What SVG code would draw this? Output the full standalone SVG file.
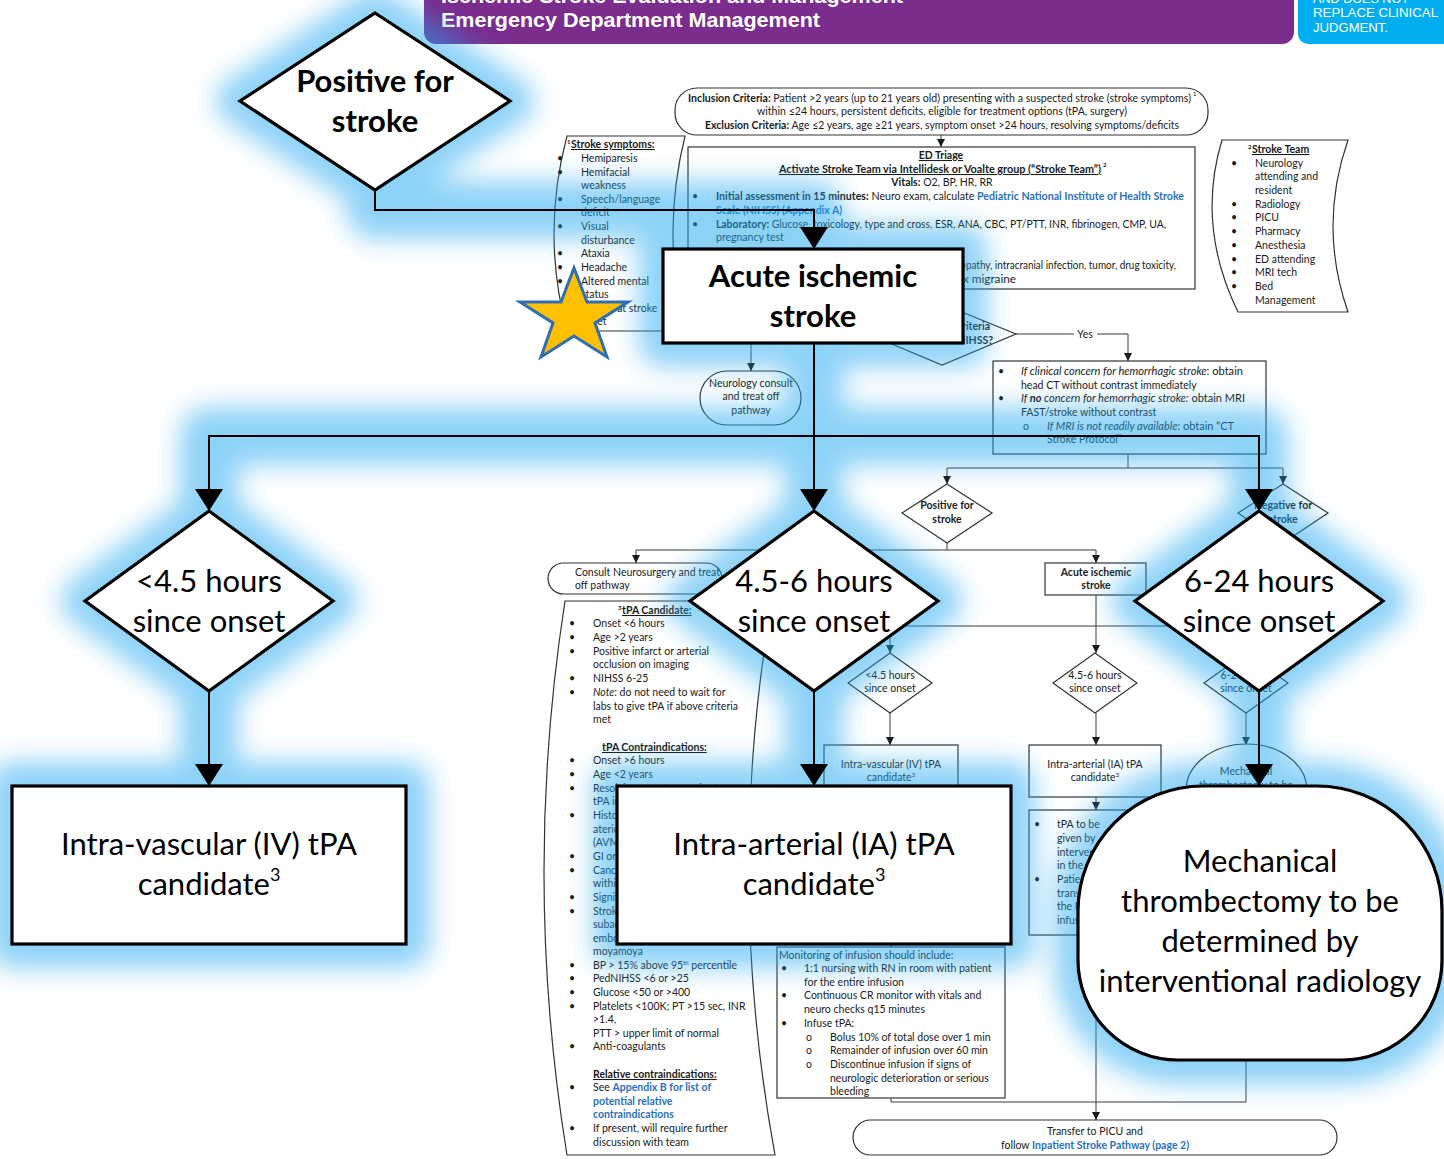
<svg xmlns="http://www.w3.org/2000/svg" width="1444" height="1159" viewBox="0 0 1444 1159">
<defs>
<style>
text{font-family:Lato,"Open Sans","Liberation Sans",sans-serif;fill:#1a1a1a}
.s{font-size:10.5px}
.c{text-anchor:middle}
.b{font-weight:700}
.i{font-style:italic}
.u{text-decoration:underline}
.lk{fill:#2a6fc4;font-weight:700}
.hd{font-family:"Liberation Sans",Arial,sans-serif;fill:#fff;font-weight:700}
.ln{fill:none;stroke:#3a3a3a;stroke-width:1}
.bx{fill:#fff;stroke:#333;stroke-width:1.2}
.big{fill:#fff;stroke:#000;stroke-width:3.2}
.bt{font-size:31px;text-anchor:middle;fill:#000}
.cn{fill:none;stroke:#000;stroke-width:2}
</style>
<marker id="a" viewBox="0 0 10 10" refX="10" refY="5" markerWidth="8" markerHeight="8" markerUnits="userSpaceOnUse" orient="auto"><path d="M0 0L10 5L0 10z" fill="#1a1a1a"/></marker>
<marker id="A" viewBox="0 0 22 28" refX="22" refY="14" markerWidth="22" markerHeight="28" markerUnits="userSpaceOnUse" orient="auto"><path d="M0 0L22 14L0 28z" fill="#000"/></marker>
<filter id="glow" filterUnits="userSpaceOnUse" x="-100" y="-100" width="1644" height="1359"><feGaussianBlur stdDeviation="13"/></filter>
</defs>
<rect width="1444" height="1159" fill="#fff"/>

<!-- header banner -->
<g id="header">
<rect x="424" y="-20" width="870" height="64" rx="12" fill="#7b2d8e"/>
<text class="hd" x="441" y="3" font-size="21" textLength="462" lengthAdjust="spacingAndGlyphs">Ischemic Stroke Evaluation and Management</text>
<text class="hd" x="441" y="27" font-size="21" textLength="379" lengthAdjust="spacingAndGlyphs">Emergency Department Management</text>
<rect x="1298" y="-20" width="160" height="64" rx="10" fill="#00aeef"/>
<text class="hd" x="1313" y="3" font-size="13" textLength="96" lengthAdjust="spacingAndGlyphs" style="font-weight:400">AND DOES NOT</text>
<text class="hd" x="1313" y="17" font-size="13" textLength="125" lengthAdjust="spacingAndGlyphs" style="font-weight:400">REPLACE CLINICAL</text>
<text class="hd" x="1313" y="32" font-size="13" textLength="75" lengthAdjust="spacingAndGlyphs" style="font-weight:400">JUDGMENT.</text>
</g>

<!-- background pathway connectors -->
<g id="bg-connectors">
<path class="ln" d="M941 135V147" marker-end="url(#a)"/>
<path class="ln" d="M942 289V304"/>
<path class="ln" d="M1016 334H1128V361" marker-end="url(#a)"/>
<path class="ln" d="M868 334H751V371" marker-end="url(#a)"/>
<path class="ln" d="M1128 454V468M947 468H1283"/>
<path class="ln" d="M947 468V484" marker-end="url(#a)"/>
<path class="ln" d="M1283 468V484" marker-end="url(#a)"/>
<path class="ln" d="M947 543V550M636 550H1096"/>
<path class="ln" d="M636 550V563" marker-end="url(#a)"/>
<path class="ln" d="M1096 550V563" marker-end="url(#a)"/>
<path class="ln" d="M1096 595V653" marker-end="url(#a)"/>
<path class="ln" d="M890 626H1246"/>
<path class="ln" d="M890 626V653" marker-end="url(#a)"/>
<path class="ln" d="M1246 626V653" marker-end="url(#a)"/>
<path class="ln" d="M890 713V745" marker-end="url(#a)"/>
<path class="ln" d="M1096 713V745" marker-end="url(#a)"/>
<path class="ln" d="M1246 713V745" marker-end="url(#a)"/>
<path class="ln" d="M1096 797V810" marker-end="url(#a)"/>
<path class="ln" d="M891 790V947" marker-end="url(#a)"/>
<path class="ln" d="M891 1098V1102H1246V832"/>
<path class="ln" d="M1096 935V1120" marker-end="url(#a)"/>
<rect x="1074" y="328" width="23" height="11" fill="#fff"/>
<text class="s c" x="1085" y="338">Yes</text>
</g>

<!-- background pathway nodes -->
<g id="inclusion">
<rect class="bx" x="675" y="88" width="533" height="47" rx="22"/>
<text class="s" x="688" y="102" textLength="503" lengthAdjust="spacingAndGlyphs"><tspan class="b">Inclusion Criteria:</tspan> Patient &gt;2 years (up to 21 years old) presenting with a suspected stroke (stroke symptoms)</text>
<text x="1193" y="96" font-size="6">1</text>
<text class="s" x="757" y="115" textLength="370" lengthAdjust="spacingAndGlyphs">within ≤24 hours, persistent deficits, eligible for treatment options (tPA, surgery)</text>
<text class="s" x="705" y="129" textLength="474" lengthAdjust="spacingAndGlyphs"><tspan class="b">Exclusion Criteria:</tspan> Age ≤2 years, age ≥21 years, symptom onset &gt;24 hours, resolving symptoms/deficits</text>
</g>

<g id="stroke-symptoms">
<path class="bx" d="M567 136L685 136Q661 233 685 331L567 331Q541 233 567 136Z"/>
<text x="567" y="144" font-size="6" class="b">1</text>
<text class="s b u" x="571" y="148">Stroke symptoms:</text>
<text class="s" x="557" y="162">•</text><text class="s" x="581" y="162">Hemiparesis</text>
<text class="s" x="557" y="176">•</text><text class="s" x="581" y="176">Hemifacial</text>
<text class="s" x="581" y="189">weakness</text>
<text class="s" x="557" y="203">•</text><text class="s" x="581" y="203">Speech/language</text>
<text class="s" x="581" y="216">deficit</text>
<text class="s" x="557" y="230">•</text><text class="s" x="581" y="230">Visual</text>
<text class="s" x="581" y="244">disturbance</text>
<text class="s" x="557" y="257">•</text><text class="s" x="581" y="257">Ataxia</text>
<text class="s" x="557" y="271">•</text><text class="s" x="581" y="271">Headache</text>
<text class="s" x="557" y="285">•</text><text class="s" x="581" y="285">Altered mental</text>
<text class="s" x="581" y="298">status</text>
<text class="s" x="557" y="312">•</text><text class="s" x="581" y="312">Seizure at stroke</text>
<text class="s" x="581" y="325">onset</text>
</g>

<g id="ed-triage">
<rect class="bx" x="688" y="147" width="507" height="142"/>
<text class="s b u c" x="941" y="159">ED Triage</text>
<text class="s b u" x="779" y="173" textLength="322" lengthAdjust="spacingAndGlyphs">Activate Stroke Team via Intellidesk or Voalte group (“Stroke Team”)</text>
<text x="1103" y="167" font-size="6" class="b">2</text>
<text class="s c" x="942" y="186"><tspan class="b">Vitals:</tspan> O2, BP, HR, RR</text>
<text class="s" x="692" y="200">•</text>
<text class="s" x="716" y="200" textLength="468" lengthAdjust="spacingAndGlyphs"><tspan class="b">Initial assessment in 15 minutes:</tspan> Neuro exam, calculate <tspan class="lk">Pediatric National Institute of Health Stroke</tspan></text>
<text class="s lk" x="716" y="214">Scale (NIHSS) (Appendix A)</text>
<text class="s" x="692" y="228">•</text>
<text class="s" x="716" y="228" textLength="450" lengthAdjust="spacingAndGlyphs"><tspan class="b">Laboratory:</tspan> Glucose, toxicology, type and cross, ESR, ANA, CBC, PT/PTT, INR, fibrinogen, CMP, UA,</text>
<text class="s" x="716" y="241">pregnancy test</text>
<text class="s" x="716" y="269" textLength="460" lengthAdjust="spacingAndGlyphs">Consider stroke mimics: hypoglycemia, seizure, encephalopathy, intracranial infection, tumor, drug toxicity,</text>
<text class="s" x="716" y="283" textLength="300" lengthAdjust="spacingAndGlyphs">Todd paralysis, hypertensive emergency, complex migraine</text>
</g>

<g id="stroke-team">
<path class="bx" d="M1222 140L1348 140Q1318 226 1348 312L1238 312Q1196 226 1222 140Z"/>
<text x="1248" y="149" font-size="6" class="b">2</text>
<text class="s b u" x="1252" y="153">Stroke Team</text>
<text class="s" x="1231" y="167">•</text><text class="s" x="1255" y="167">Neurology</text>
<text class="s" x="1255" y="180">attending and</text>
<text class="s" x="1255" y="194">resident</text>
<text class="s" x="1231" y="208">•</text><text class="s" x="1255" y="208">Radiology</text>
<text class="s" x="1231" y="221">•</text><text class="s" x="1255" y="221">PICU</text>
<text class="s" x="1231" y="235">•</text><text class="s" x="1255" y="235">Pharmacy</text>
<text class="s" x="1231" y="249">•</text><text class="s" x="1255" y="249">Anesthesia</text>
<text class="s" x="1231" y="263">•</text><text class="s" x="1255" y="263">ED attending</text>
<text class="s" x="1231" y="276">•</text><text class="s" x="1255" y="276">MRI tech</text>
<text class="s" x="1231" y="290">•</text><text class="s" x="1255" y="290">Bed</text>
<text class="s" x="1255" y="304">Management</text>
</g>

<g id="criteria">
<polygon class="bx" points="942,304 1016,334 942,365 868,334"/>
<text class="s b" x="990" y="330" text-anchor="end">Meets criteria</text>
<text class="s b" x="993" y="344" text-anchor="end">based on PedNIHSS?</text>
</g>

<g id="imaging">
<rect class="bx" x="993" y="361" width="273" height="93"/>
<text class="s" x="998" y="375">•</text>
<text class="s" x="1021" y="375" textLength="222" lengthAdjust="spacingAndGlyphs"><tspan class="i">If clinical concern for hemorrhagic stroke</tspan>: obtain</text>
<text class="s" x="1021" y="389">head CT without contrast immediately</text>
<text class="s" x="998" y="402">•</text>
<text class="s" x="1021" y="402" textLength="224" lengthAdjust="spacingAndGlyphs"><tspan class="i">If </tspan><tspan class="i b">no</tspan><tspan class="i"> concern for hemorrhagic stroke:</tspan> obtain MRI</text>
<text class="s" x="1021" y="416">FAST/stroke without contrast</text>
<text class="s" x="1023" y="430">o</text>
<text class="s" x="1047" y="430" textLength="187" lengthAdjust="spacingAndGlyphs"><tspan class="i">If MRI is not readily available</tspan>: obtain “CT</text>
<text class="s" x="1047" y="443">Stroke Protocol”</text>
</g>

<g id="neuro-consult">
<rect class="bx" x="700" y="371" width="101" height="54" rx="27"/>
<text class="s c" x="751" y="387">Neurology consult</text>
<text class="s c" x="751" y="400">and treat off</text>
<text class="s c" x="751" y="414">pathway</text>
</g>

<g id="positive-small">
<polygon class="bx" points="947,484 992,513 947,543 902,513"/>
<text class="s b c" x="947" y="509">Positive for</text>
<text class="s b c" x="947" y="523">stroke</text>
</g>
<g id="negative-small">
<polygon class="bx" points="1283,484 1328,513 1283,543 1238,513"/>
<text class="s b c" x="1283" y="509">Negative for</text>
<text class="s b c" x="1283" y="523">stroke</text>
</g>

<g id="consult-neurosurgery">
<rect class="bx" x="548" y="563" width="174" height="31" rx="15.5"/>
<text class="s" x="575" y="576">Consult Neurosurgery and treat</text>
<text class="s" x="575" y="589">off pathway</text>
</g>

<g id="acute-small">
<rect class="bx" x="1045" y="563" width="101" height="32"/>
<text class="s b c" x="1096" y="576">Acute ischemic</text>
<text class="s b c" x="1096" y="589">stroke</text>
</g>

<g id="tpa-candidate">
<path class="bx" d="M565 601L772 601Q724 878 775 1155L567 1155Q522 878 565 601Z"/>
<text x="618" y="610" font-size="6" class="b">3</text>
<text class="s b u" x="622" y="614">tPA Candidate:</text>
<text class="s" x="569" y="627">•</text><text class="s" x="593" y="627">Onset &lt;6 hours</text>
<text class="s" x="569" y="641">•</text><text class="s" x="593" y="641">Age &gt;2 years</text>
<text class="s" x="569" y="655">•</text><text class="s" x="593" y="655">Positive infarct or arterial</text>
<text class="s" x="593" y="668">occlusion on imaging</text>
<text class="s" x="569" y="682">•</text><text class="s" x="593" y="682">NIHSS 6-25</text>
<text class="s" x="569" y="696">•</text><text class="s" x="593" y="696"><tspan class="i">Note</tspan>: do not need to wait for</text>
<text class="s" x="593" y="710">labs to give tPA if above criteria</text>
<text class="s" x="593" y="723">met</text>
<text class="s b u" x="602" y="751">tPA Contraindications:</text>
<text class="s" x="569" y="764">•</text><text class="s" x="593" y="764">Onset &gt;6 hours</text>
<text class="s" x="569" y="778">•</text><text class="s" x="593" y="778">Age &lt;2 years</text>
<text class="s" x="569" y="792">•</text><text class="s" x="593" y="792">Resolving symptoms prior to</text>
<text class="s" x="593" y="805">tPA initiation</text>
<text class="s" x="569" y="819">•</text><text class="s" x="593" y="819">History of hemorrhage,</text>
<text class="s" x="593" y="833">aterio-venous malformation</text>
<text class="s" x="593" y="846">(AVM) or aneurysm</text>
<text class="s" x="569" y="860">•</text><text class="s" x="593" y="860">GI or GU bleeding</text>
<text class="s" x="569" y="874">•</text><text class="s" x="593" y="874">Cancer or surgery</text>
<text class="s" x="593" y="887">within 3 months</text>
<text class="s" x="569" y="901">•</text><text class="s" x="593" y="901">Significant head trauma</text>
<text class="s" x="569" y="915">•</text><text class="s" x="593" y="915">Stroke due to</text>
<text class="s" x="593" y="928">subacute endocarditis,</text>
<text class="s" x="593" y="942">embolism, dissection or</text>
<text class="s" x="593" y="955">moyamoya</text>
<text class="s" x="569" y="969">•</text><text class="s" x="593" y="969">BP &gt; 15% above 95<tspan font-size="6" dy="-4">th</tspan><tspan dy="4"> percentile</tspan></text>
<text class="s" x="569" y="982">•</text><text class="s" x="593" y="982">PedNIHSS &lt;6 or &gt;25</text>
<text class="s" x="569" y="996">•</text><text class="s" x="593" y="996">Glucose &lt;50 or &gt;400</text>
<text class="s" x="569" y="1010">•</text><text class="s" x="593" y="1010">Platelets &lt;100K; PT &gt;15 sec, INR</text>
<text class="s" x="593" y="1023">&gt;1.4,</text>
<text class="s" x="593" y="1037">PTT &gt; upper limit of normal</text>
<text class="s" x="569" y="1050">•</text><text class="s" x="593" y="1050">Anti-coagulants</text>
<text class="s b u" x="593" y="1078">Relative contraindications:</text>
<text class="s" x="569" y="1091">•</text><text class="s" x="593" y="1091">See <tspan class="lk">Appendix B for list of</tspan></text>
<text class="s lk" x="593" y="1105">potential relative</text>
<text class="s lk" x="593" y="1118">contraindications</text>
<text class="s" x="569" y="1132">•</text><text class="s" x="593" y="1132">If present, will require further</text>
<text class="s" x="593" y="1146">discussion with team</text>
</g>

<g id="small-diamonds">
<polygon class="bx" points="890,653 932,683 890,713 848,683"/>
<text class="s c" x="890" y="679">&lt;4.5 hours</text><text class="s c" x="890" y="692">since onset</text>
<polygon class="bx" points="1095,653 1137,683 1095,713 1053,683"/>
<text class="s c" x="1095" y="679">4.5-6 hours</text><text class="s c" x="1095" y="692">since onset</text>
<polygon class="bx" points="1246,653 1288,683 1246,713 1204,683"/>
<text class="s c" x="1246" y="679">6-24 hours</text><text class="s c" x="1246" y="692">since onset</text>
</g>

<g id="small-iv">
<rect class="bx" x="824" y="745" width="134" height="45"/>
<text class="s c" x="891" y="768">Intra-vascular (IV) tPA</text>
<text class="s c" x="891" y="781">candidate<tspan font-size="6" dy="-4">3</tspan></text>
</g>
<g id="small-ia">
<rect class="bx" x="1029" y="745" width="132" height="52"/>
<text class="s c" x="1095" y="768">Intra-arterial (IA) tPA</text>
<text class="s c" x="1095" y="781">candidate<tspan font-size="6" dy="-4">3</tspan></text>
</g>
<g id="small-mech">
<path class="bx" d="M1186 790A60.5 46 0 0 1 1307 790V832H1186Z"/>
<text class="s c" x="1246" y="775">Mechanical</text>
<text class="s c" x="1246" y="789">thrombectomy to be</text>
</g>
<g id="ia-notes">
<rect class="bx" x="1029" y="810" width="132" height="125"/>
<text class="s" x="1034" y="828">•</text><text class="s" x="1057" y="828">tPA to be</text>
<text class="s" x="1057" y="842">given by</text>
<text class="s" x="1057" y="856">interventional</text>
<text class="s" x="1057" y="869">in the IR suite</text>
<text class="s" x="1034" y="883">•</text><text class="s" x="1057" y="883">Patient</text>
<text class="s" x="1057" y="897">transferred to</text>
<text class="s" x="1057" y="910">the PICU after</text>
<text class="s" x="1057" y="924">infusion</text>
</g>

<g id="monitoring">
<rect class="bx" x="777" y="947" width="228" height="151"/>
<text class="s" x="779" y="959">Monitoring of infusion should include:</text>
<text class="s" x="781" y="972">•</text><text class="s" x="804" y="972">1:1 nursing with RN in room with patient</text>
<text class="s" x="804" y="986">for the entire infusion</text>
<text class="s" x="781" y="999">•</text><text class="s" x="804" y="999">Continuous CR monitor with vitals and</text>
<text class="s" x="804" y="1013">neuro checks q15 minutes</text>
<text class="s" x="781" y="1027">•</text><text class="s" x="804" y="1027">Infuse tPA:</text>
<text class="s" x="806" y="1041">o</text><text class="s" x="830" y="1041">Bolus 10% of total dose over 1 min</text>
<text class="s" x="806" y="1054">o</text><text class="s" x="830" y="1054">Remainder of infusion over 60 min</text>
<text class="s" x="806" y="1068">o</text><text class="s" x="830" y="1068">Discontinue infusion if signs of</text>
<text class="s" x="830" y="1082">neurologic deterioration or serious</text>
<text class="s" x="830" y="1095">bleeding</text>
</g>

<g id="transfer">
<rect class="bx" x="853" y="1120" width="484" height="35" rx="17.5"/>
<text class="s c" x="1095" y="1135">Transfer to PICU and</text>
<text class="s c" x="1095" y="1149">follow <tspan class="lk">Inpatient Stroke Pathway (page 2)</tspan></text>
</g>

<!-- soft blue halo behind the highlighted route -->
<g id="halo" filter="url(#glow)" opacity="0.5">
<g fill="#1ba6f0" stroke="#1ba6f0" stroke-width="48" stroke-linejoin="round">
<polygon points="375,13 510,101 375,190 240,101"/>
<rect x="663" y="249" width="300" height="94"/>
<polygon points="209,511 333,601 209,691 85,601"/>
<polygon points="814,511 938,601 814,691 690,601"/>
<polygon points="1259,511 1383,601 1259,691 1135,601"/>
<rect x="12" y="786" width="394" height="158"/>
<rect x="617" y="786" width="394" height="158"/>
<path d="M1078 911A125 125 0 0 1 1203 786L1317 786A125 125 0 0 1 1442 911L1442 960A100 100 0 0 1 1342 1060L1178 1060A100 100 0 0 1 1078 960Z"/>
</g>
<path d="M375 190V210H814V249M814 343V511M209 511V436H1259V511M209 691V786M814 691V786M1259 691V786" fill="none" stroke="#1ba6f0" stroke-width="58" stroke-linecap="round" stroke-linejoin="round"/>
</g>

<!-- highlighted route connectors -->
<g id="connectors">
<path class="cn" d="M375 190V210H814V249" marker-end="url(#A)"/>
<path class="cn" d="M814 343V511" marker-end="url(#A)"/>
<path class="cn" d="M814 436H209V511" marker-end="url(#A)"/>
<path class="cn" d="M814 436H1259V511" marker-end="url(#A)"/>
<path class="cn" d="M209 691V786" marker-end="url(#A)"/>
<path class="cn" d="M814 691V786" marker-end="url(#A)"/>
<path class="cn" d="M1259 691V786" marker-end="url(#A)"/>
</g>

<!-- highlighted route nodes -->
<g id="positive-for-stroke">
<polygon class="big" points="375,13 510,101 375,190 240,101"/>
<text class="bt b" x="375" y="92">Positive for</text>
<text class="bt b" x="375" y="132">stroke</text>
</g>
<g id="acute-ischemic-stroke">
<rect class="big" x="663" y="249" width="300" height="94"/>
<text class="bt b" x="813" y="287">Acute ischemic</text>
<text class="bt b" x="813" y="327">stroke</text>
</g>
<g id="under-4-5-hours">
<polygon class="big" points="209,511 333,601 209,691 85,601"/>
<text class="bt" x="209" y="592">&lt;4.5 hours</text>
<text class="bt" x="209" y="632">since onset</text>
</g>
<g id="hours-4-5-to-6">
<polygon class="big" points="814,511 938,601 814,691 690,601"/>
<text class="bt" x="814" y="592">4.5-6 hours</text>
<text class="bt" x="814" y="632">since onset</text>
</g>
<g id="hours-6-to-24">
<polygon class="big" points="1259,511 1383,601 1259,691 1135,601"/>
<text class="bt" x="1259" y="592">6-24 hours</text>
<text class="bt" x="1259" y="632">since onset</text>
</g>
<g id="iv-tpa">
<rect class="big" x="12" y="786" width="394" height="158"/>
<text class="bt" x="209" y="855">Intra-vascular (IV) tPA</text>
<text class="bt" x="209" y="895">candidate<tspan font-size="18" dy="-14">3</tspan></text>
</g>
<g id="ia-tpa">
<rect class="big" x="617" y="786" width="394" height="158"/>
<text class="bt" x="814" y="855">Intra-arterial (IA) tPA</text>
<text class="bt" x="814" y="895">candidate<tspan font-size="18" dy="-14">3</tspan></text>
</g>
<g id="mechanical-thrombectomy">
<path class="big" d="M1078 911A125 125 0 0 1 1203 786L1317 786A125 125 0 0 1 1442 911L1442 960A100 100 0 0 1 1342 1060L1178 1060A100 100 0 0 1 1078 960Z"/>
<text class="bt" x="1260" y="872">Mechanical</text>
<text class="bt" x="1260" y="912">thrombectomy to be</text>
<text class="bt" x="1260" y="952">determined by</text>
<text class="bt" x="1260" y="992">interventional radiology</text>
</g>

<g id="star">
<polygon points="574,268 587,302 628,302 595,323 607,357 574,336 541,357 553,323 520,302 561,302" fill="#ffc000" stroke="#2f6eb5" stroke-width="3" stroke-linejoin="miter"/>
</g>
</svg>
